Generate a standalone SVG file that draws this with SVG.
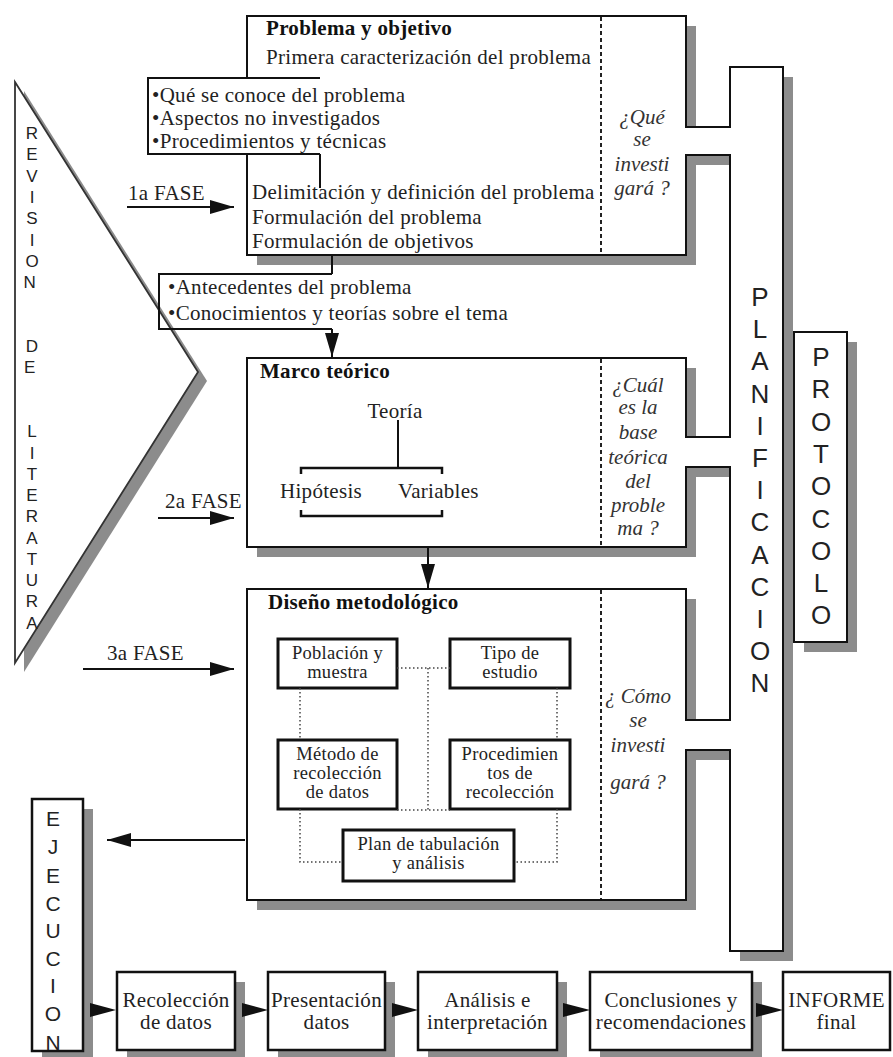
<svg xmlns="http://www.w3.org/2000/svg" width="893" height="1057" viewBox="0 0 893 1057">
<style>
.t{font-family:"Liberation Serif","Times New Roman",serif;font-size:21px;letter-spacing:0.3px;fill:#222}
.s{font-size:18.5px}
.b{font-weight:bold;fill:#111}
.c{text-anchor:middle}
.q{font-family:"Liberation Serif","Times New Roman",serif;font-size:21px;font-style:italic;fill:#333;text-anchor:middle}
.v{font-family:"Liberation Sans",Arial,sans-serif;fill:#222;text-anchor:middle}
.sh{fill:#8c8c8c;stroke:none}
.box{fill:#fff;stroke:#111;stroke-width:2}
.bbox{fill:#fff;stroke:#111;stroke-width:2.5}
.ibox{fill:#fff;stroke:#111;stroke-width:3}
.dash{stroke:#222;stroke-width:2;stroke-dasharray:4 3;fill:none}
.dot{stroke:#444;stroke-width:1.5;stroke-dasharray:1.5 2.5;fill:none}
.ln{stroke:#111;stroke-width:2;fill:none}
.br{stroke:#111;stroke-width:2.5;fill:none}
.ah{fill:#111}
</style>
<defs>
<marker id="arr" markerUnits="userSpaceOnUse" markerWidth="24" markerHeight="14" refX="24" refY="7" orient="auto"><path d="M0,0 L24,7 L0,14 Z" fill="#111"/></marker>
<path id="frame" d="M247,16 H686 V127 H730 V67 H783 V951 H730 V750 H686 V900 H247 V589 H686 V720 H730 V467 H686 V547 H247 V358 H686 V437 H730 V155 H686 V255 H247 Z"/>
</defs>

<g id="revision-literatura">
<polygon class="sh" points="24,91 207,381 24,672"/>
<polygon points="15,82 198,372 15,663" fill="#fff" stroke="#333" stroke-width="1.8"/>
<text class="v" font-size="17">
<tspan x="32" y="139">R</tspan><tspan x="32" y="160">E</tspan><tspan x="32" y="182">V</tspan><tspan x="32" y="203">I</tspan><tspan x="32" y="224">S</tspan><tspan x="32" y="246">I</tspan><tspan x="32" y="267">O</tspan><tspan x="32" y="288">N</tspan>
<tspan x="32" y="352">D</tspan><tspan x="32" y="373">E</tspan>
<tspan x="32" y="437">L</tspan><tspan x="32" y="459">I</tspan><tspan x="32" y="480">T</tspan><tspan x="32" y="501">E</tspan><tspan x="32" y="522">R</tspan><tspan x="32" y="544">A</tspan><tspan x="32" y="565">T</tspan><tspan x="32" y="586">U</tspan><tspan x="32" y="607">R</tspan><tspan x="32" y="629">A</tspan>
</text>
</g>

<g id="planificacion">
<use href="#frame" class="sh" transform="translate(10,10)"/>
<use href="#frame" class="box"/>
<text class="v" font-size="26">
<tspan x="760" y="306">P</tspan><tspan x="760" y="338">L</tspan><tspan x="760" y="370">A</tspan><tspan x="760" y="403">N</tspan><tspan x="760" y="435">I</tspan><tspan x="760" y="467">F</tspan><tspan x="760" y="499">I</tspan><tspan x="760" y="531">C</tspan><tspan x="760" y="564">A</tspan><tspan x="760" y="596">C</tspan><tspan x="760" y="628">I</tspan><tspan x="760" y="660">O</tspan><tspan x="760" y="692">N</tspan>
</text>
</g>

<g id="protocolo">
<rect class="sh" x="804" y="342" width="53" height="310"/>
<rect class="box" x="794" y="332" width="53" height="310"/>
<text class="v" font-size="26">
<tspan x="821" y="366">P</tspan><tspan x="821" y="398">R</tspan><tspan x="821" y="431">O</tspan><tspan x="821" y="463">T</tspan><tspan x="821" y="495">O</tspan><tspan x="821" y="528">C</tspan><tspan x="821" y="560">O</tspan><tspan x="821" y="592">L</tspan><tspan x="821" y="624">O</tspan>
</text>
</g>

<g id="problema">
<line class="dash" x1="601" y1="17" x2="601" y2="254"/>
<text class="t b" x="266" y="35">Problema y objetivo</text>
<text class="t" x="266" y="64">Primera caracterización del problema</text>
<text class="t" x="252" y="199">Delimitación y definición del problema</text>
<text class="t" x="252" y="224">Formulación del problema</text>
<text class="t" x="252" y="248">Formulación de objetivos</text>
<text class="q"><tspan x="642" y="124">¿Qué</tspan><tspan x="642" y="146">se</tspan><tspan x="642" y="171">investi</tspan><tspan x="642" y="195">gará ?</tspan></text>
</g>

<g id="conocimiento-previo">
<rect x="148" y="78" width="172" height="76" fill="#fff"/>
<path class="ln" d="M320,78 H148 V154 H320"/>
<text class="t" x="152" y="102">•Qué se conoce del problema</text>
<text class="t" x="152" y="125">•Aspectos no investigados</text>
<text class="t" x="152" y="148">•Procedimientos y técnicas</text>
</g>

<g id="antecedentes">
<path class="ln" d="M332,274 H159 V329 H332"/>
<text class="t" x="168" y="294">•Antecedentes del problema</text>
<text class="t" x="168" y="320">•Conocimientos y teorías sobre el tema</text>
</g>

<g id="marco-teorico">
<line class="dash" x1="601" y1="359" x2="601" y2="546"/>
<text class="t b" x="260" y="378">Marco teórico</text>
<text class="t c" x="395" y="418">Teoría</text>
<line class="ln" x1="398" y1="420" x2="398" y2="468"/>
<path class="br" d="M301,474 V468 H442 V474"/>
<path class="br" d="M301,510 V516 H442 V510"/>
<text class="t" x="280" y="498">Hipótesis</text>
<text class="t" x="398" y="498">Variables</text>
<text class="q"><tspan x="638" y="392">¿Cuál</tspan><tspan x="638" y="414">es la</tspan><tspan x="638" y="439">base</tspan><tspan x="638" y="464">teórica</tspan><tspan x="638" y="488">del</tspan><tspan x="638" y="512">proble</tspan><tspan x="638" y="535">ma ?</tspan></text>
</g>

<g id="diseno-metodologico">
<line class="dash" x1="601" y1="590" x2="601" y2="899"/>
<text class="t b" x="268" y="609">Diseño metodológico</text>
<text class="q"><tspan x="638" y="703">¿ Cómo</tspan><tspan x="638" y="727">se</tspan><tspan x="638" y="752">investi</tspan><tspan x="638" y="789">gará ?</tspan></text>
</g>

<g id="poblacion-muestra">
<rect class="ibox" x="278" y="639" width="119" height="49"/>
<text class="t s c"><tspan x="337.5" y="659">Población y</tspan><tspan x="337.5" y="678">muestra</tspan></text>
</g>
<g id="tipo-estudio">
<rect class="ibox" x="450" y="639" width="120" height="49"/>
<text class="t s c"><tspan x="510" y="659">Tipo de</tspan><tspan x="510" y="678">estudio</tspan></text>
</g>
<g id="metodo-recoleccion">
<rect class="ibox" x="278" y="740" width="119" height="69"/>
<text class="t s c"><tspan x="337.5" y="760">Método de</tspan><tspan x="337.5" y="779">recolección</tspan><tspan x="337.5" y="798">de datos</tspan></text>
</g>
<g id="procedimientos">
<rect class="ibox" x="450" y="740" width="120" height="69"/>
<text class="t s c"><tspan x="510" y="760">Procedimien</tspan><tspan x="510" y="779">tos de</tspan><tspan x="510" y="798">recolección</tspan></text>
</g>
<g id="plan-tabulacion">
<rect class="ibox" x="343" y="830" width="171" height="51"/>
<text class="t s c"><tspan x="428.5" y="850">Plan de tabulación</tspan><tspan x="428.5" y="869">y análisis</tspan></text>
</g>

<g id="ejecucion">
<rect class="sh" x="42" y="809" width="51" height="252"/>
<rect class="bbox" x="32" y="799" width="51" height="252"/>
<text class="v" font-size="21">
<tspan x="53" y="826">E</tspan><tspan x="53" y="854">J</tspan><tspan x="53" y="883">E</tspan><tspan x="53" y="911">C</tspan><tspan x="53" y="938">U</tspan><tspan x="53" y="966">C</tspan><tspan x="53" y="993">I</tspan><tspan x="53" y="1021">O</tspan><tspan x="53" y="1050">N</tspan>
</text>
</g>

<g id="recoleccion-datos">
<rect class="sh" x="127" y="982" width="118" height="78"/>
<rect class="bbox" x="117" y="972" width="118" height="78"/>
<text class="t c"><tspan x="176" y="1007">Recolección</tspan><tspan x="176" y="1029">de datos</tspan></text>
</g>
<g id="presentacion-datos">
<rect class="sh" x="278" y="982" width="117" height="78"/>
<rect class="bbox" x="268" y="972" width="117" height="78"/>
<text class="t c"><tspan x="326.5" y="1007">Presentación</tspan><tspan x="326.5" y="1029">datos</tspan></text>
</g>
<g id="analisis">
<rect class="sh" x="428" y="982" width="139" height="78"/>
<rect class="bbox" x="418" y="972" width="139" height="78"/>
<text class="t c"><tspan x="487.5" y="1007">Análisis e</tspan><tspan x="487.5" y="1029">interpretación</tspan></text>
</g>
<g id="conclusiones">
<rect class="sh" x="600" y="982" width="162" height="78"/>
<rect class="bbox" x="590" y="972" width="162" height="78"/>
<text class="t c"><tspan x="671" y="1007">Conclusiones y</tspan><tspan x="671" y="1029">recomendaciones</tspan></text>
</g>
<g id="informe-final">
<rect class="bbox" x="783" y="972" width="107" height="78"/>
<text class="t c"><tspan x="836.5" y="1007">INFORME</tspan><tspan x="836.5" y="1029">final</tspan></text>
</g>

<g id="fase-labels">
<text class="t" x="128" y="200">1a FASE</text>
<text class="t" x="165" y="508">2a FASE</text>
<text class="t" x="107" y="660">3a FASE</text>
</g>

<g id="connectors">
<line class="ln" x1="320" y1="154" x2="320" y2="188"/>
<line class="ln" x1="332" y1="256" x2="332" y2="274"/>
<line class="ln" x1="332" y1="329" x2="332" y2="357" marker-end="url(#arr)"/>
<line class="ln" x1="428" y1="548" x2="428" y2="588" marker-end="url(#arr)"/>
<line class="ln" x1="127" y1="207" x2="234" y2="207" marker-end="url(#arr)"/>
<line class="ln" x1="158" y1="518" x2="234" y2="518" marker-end="url(#arr)"/>
<line class="ln" x1="83" y1="669" x2="234" y2="669" marker-end="url(#arr)"/>
<line class="ln" x1="245" y1="840" x2="107" y2="840" marker-end="url(#arr)"/>
<path class="dot" d="M397,668 H450"/>
<path class="dot" d="M428,668 V810"/>
<path class="dot" d="M397,810 H450"/>
<path class="dot" d="M300,688 V740"/>
<path class="dot" d="M557,688 V740"/>
<path class="dot" d="M300,809 V862 H343"/>
<path class="dot" d="M557,809 V862 H514"/>
<polygon class="ah" points="90,1003 116,1010 90,1017"/>
<polygon class="ah" points="242,1003 268,1010 242,1017"/>
<polygon class="ah" points="392,1003 418,1010 392,1017"/>
<polygon class="ah" points="563,1003 590,1010 563,1017"/>
<polygon class="ah" points="756,1003 783,1010 756,1017"/>
</g>
</svg>
